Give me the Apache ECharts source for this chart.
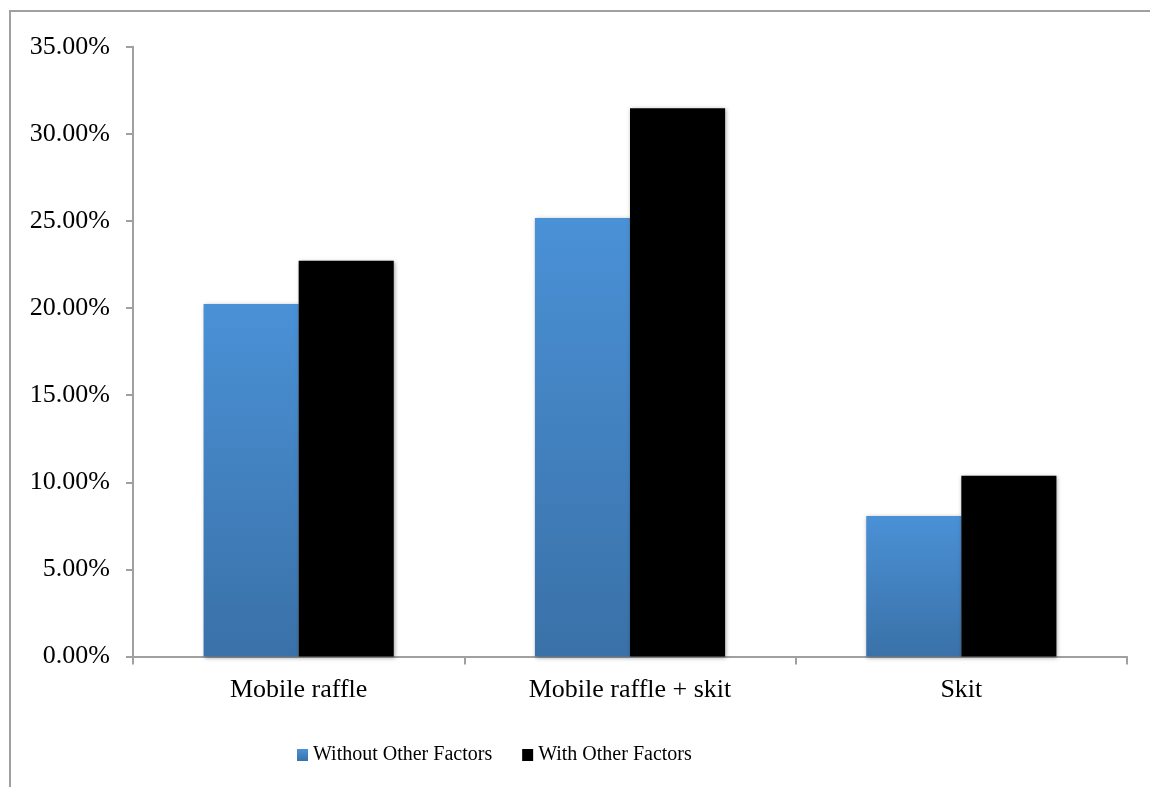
<!DOCTYPE html>
<html>
<head>
<meta charset="utf-8">
<script src="https://cdn.jsdelivr.net/npm/echarts@6/dist/echarts.min.js"></script>
<style>
html,body{margin:0;padding:0;background:#fff;}
#chart{width:1150px;height:787px;}
</style>
</head>
<body>
<div id="chart"></div>
<script>
var categories = ['Mobile raffle', 'Mobile raffle + skit', 'Skit'];
var withoutOther = [0.2023, 0.2517, 0.0807];
var withOther = [0.2272, 0.3147, 0.1038];
var seriesNames = ['Without Other Factors', 'With Other Factors'];

var chart = echarts.init(document.getElementById('chart'));
var font = '"Liberation Serif", "Times New Roman", serif';
var blueGrad = new echarts.graphic.LinearGradient(0, 0, 0, 1, [
  {offset: 0, color: '#4a91d6'},
  {offset: 1, color: '#3a71a8'}
]);
var shadow = {shadowColor: 'rgba(0,0,0,0.35)', shadowBlur: 4, shadowOffsetX: 1, shadowOffsetY: 1};

chart.setOption({
  animation: false,
  backgroundColor: '#fff',
  graphic: [{
    type: 'rect',
    shape: {x: 10, y: 11, width: 1160, height: 800},
    style: {fill: 'none', stroke: '#a0a0a0', lineWidth: 2},
    silent: true
  }],
  grid: {left: 133, right: 23, top: 46.7, bottom: 130.5, containLabel: false},
  legend: {
    left: 292,
    top: 740,
    icon: 'rect',
    itemWidth: 11,
    itemHeight: 12,
    itemGap: 30,
    textStyle: {fontFamily: font, fontSize: 20, color: '#000'},
    data: seriesNames
  },
  xAxis: {
    type: 'category',
    data: categories,
    axisLine: {lineStyle: {color: '#a0a0a0', width: 2}},
    axisTick: {show: true, length: 8, lineStyle: {color: '#a0a0a0', width: 2}},
    axisLabel: {fontFamily: font, fontSize: 26, color: '#000', margin: 21}
  },
  yAxis: {
    type: 'value',
    min: 0,
    max: 0.35,
    interval: 0.05,
    axisLine: {show: true, lineStyle: {color: '#a0a0a0', width: 2}},
    axisTick: {show: true, length: 7, lineStyle: {color: '#a0a0a0', width: 2}},
    splitLine: {show: false},
    axisLabel: {
      fontFamily: font, fontSize: 26, color: '#000', margin: 23,
      formatter: function (v) { return (v * 100).toFixed(2) + '%'; }
    }
  },
  series: [{
    name: seriesNames[0],
    type: 'bar',
    data: withoutOther,
    barGap: '0%',
    barCategoryGap: '42.6%',
    itemStyle: Object.assign({color: blueGrad}, shadow)
  }, {
    name: seriesNames[1],
    type: 'bar',
    data: withOther,
    barGap: '0%',
    barCategoryGap: '42.6%',
    itemStyle: Object.assign({color: '#000000'}, shadow)
  }]
});
</script>
</body>
</html>
